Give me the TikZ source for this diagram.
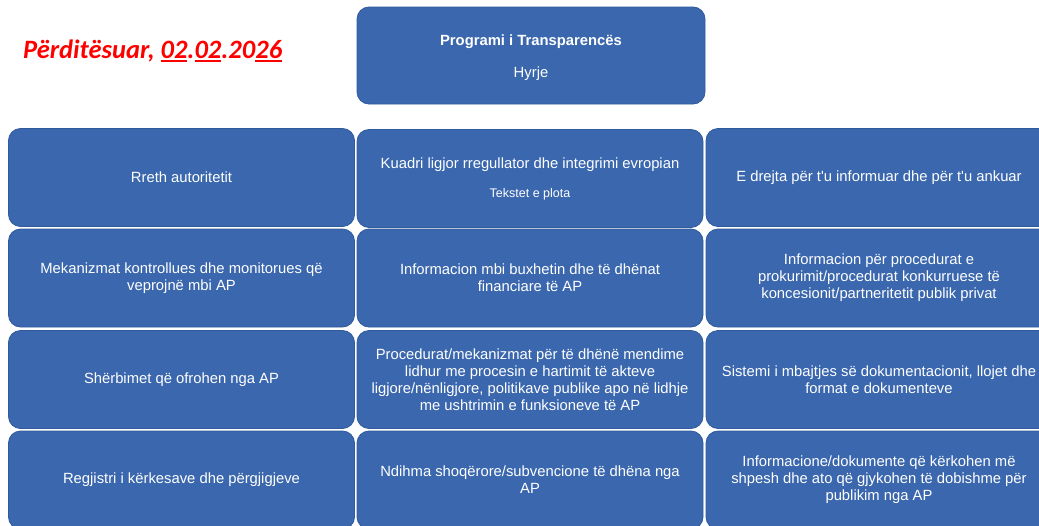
\documentclass[tikz,border=0pt]{standalone}
\usepackage{fontspec}
\setmainfont{Liberation Sans}[Ligatures=TeXOff]
\newfontfamily\calib{Carlito}
\newcommand\myul[1]{\setbox0\hbox{#1}\rlap{\rule[-3.5pt]{\wd0}{2pt}}\box0}
\definecolor{boxblue}{HTML}{3A67AD}
\definecolor{boxedge}{HTML}{2F5A9C}
\begin{document}
\begin{tikzpicture}[x=1pt,y=-1pt,
  cell/.style={draw=boxedge,line width=0.8pt,fill=boxblue,rounded corners=12pt,
    minimum width=346pt,minimum height=98pt,inner sep=0pt,
    text=white,align=center,font=\fontsize{14.8}{17}\selectfont}]
\useasboundingbox (0,0) rectangle (1039,525);
\clip (0,0) rectangle (1039,525);
% title
\node[cell,minimum width=348pt,minimum height=97pt] (top) at (531,55.5) {};
\node[text=white,align=center,font=\fontsize{14.8}{17}\selectfont] (toptext) at (531,57.5)
  {\textbf{Programi i Transparencës}\\[15pt]Hyrje};
\node[anchor=base west,inner sep=0pt,text=red,font=\calib\bfseries\itshape\fontsize{26.5}{30}\selectfont] (upd) at (23,58)
  {Përditësuar, \myul{02}.\myul{02}.20\myul{26}};
% row 1
\node[cell] (r1c1) at (181.5,177.5) {Rreth autoritetit};
\node[cell] (r1c2) at (530,178.5) {Kuadri ligjor rregullator dhe integrimi evropian\\[12pt]{\fontsize{12.5}{14}\selectfont Tekstet e plota}};
\node[cell] (r1c3) at (879,177.5) {E drejta për t'u informuar dhe për t'u ankuar};
% row 2
\node[cell] (r2c1) at (181.5,278) {Mekanizmat kontrollues dhe monitorues që\\veprojnë mbi AP};
\node[cell] (r2c2) at (530,278) {Informacion mbi buxhetin dhe të dhënat\\financiare të AP};
\node[cell] (r2c3) at (879,278) {Informacion për procedurat e\\prokurimit/procedurat konkurruese të\\koncesionit/partneritetit publik privat};
% row 3
\node[cell] (r3c1) at (181.5,379.5) {Shërbimet që ofrohen nga AP};
\node[cell] (r3c2) at (530,379.5) {Procedurat/mekanizmat për të dhënë mendime\\lidhur me procesin e hartimit të akteve\\ligjore/nënligjore, politikave publike apo në lidhje\\me ushtrimin e funksioneve të AP};
\node[cell] (r3c3) at (879,379.5) {Sistemi i mbajtjes së dokumentacionit, llojet dhe\\format e dokumenteve};
% row 4
\node[cell] (r4c1) at (181.5,480) {Regjistri i kërkesave dhe përgjigjeve};
\node[cell] (r4c2) at (530,480) {Ndihma shoqërore/subvencione të dhëna nga\\AP};
\node[cell] (r4c3) at (879,480) {Informacione/dokumente që kërkohen më\\shpesh dhe ato që gjykohen të dobishme për\\publikim nga AP};
\end{tikzpicture}
\end{document}
